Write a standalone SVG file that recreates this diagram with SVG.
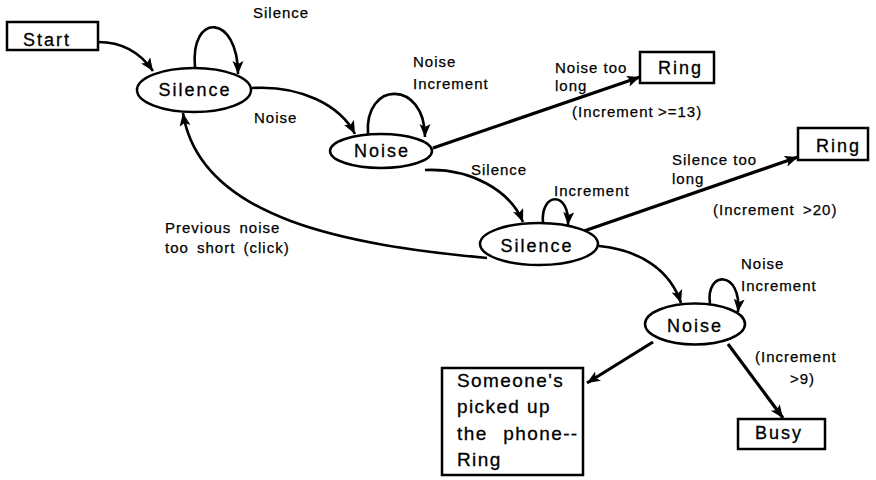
<svg xmlns="http://www.w3.org/2000/svg" width="876" height="480" viewBox="0 0 876 480">
<defs>
<style>
.bg{fill:#fff}
.node ellipse,.node rect{fill:#fff;stroke:#000;stroke-width:2.5}
.ntext{font-family:"Liberation Sans",Arial,sans-serif;font-size:18px;letter-spacing:2px;fill:#000;stroke:#000;stroke-width:0.3}
.ctext{text-anchor:middle}
.btext{font-family:"Liberation Sans",Arial,sans-serif;font-size:19px;letter-spacing:1.4px;fill:#000;stroke:#000;stroke-width:0.3}
.lbl{font-family:"Liberation Sans",Arial,sans-serif;font-size:15px;letter-spacing:1px;fill:#000;stroke:#000;stroke-width:0.25}
.edge{fill:none;stroke:#000;stroke-width:2.6;marker-end:url(#ah)}
.thick{stroke-width:3.2}
</style>
<marker id="ah" markerUnits="userSpaceOnUse" markerWidth="14" markerHeight="12" refX="13" refY="5.5" orient="auto">
<path d="M0,0 L13,5.5 L0,11 L3,5.5 z" fill="#000"/>
</marker>
</defs>
<rect class="bg" x="0" y="0" width="876" height="480"/>

<g id="connectors">
<path class="edge" d="M98,42 C125,42 142,55 153,71"/>
<path class="edge" d="M195,67 C190,12 238,14 238,74"/>
<path class="edge" d="M252,88 C300,85 340,105 355,134"/>
<path class="edge" d="M368,134 C364,80 425,80 425,137"/>
<path class="edge thick" d="M433,148 L640,77"/>
<path class="edge" d="M425,170 C470,168 510,190 523,222"/>
<path class="edge" d="M543,223 C540,192 570,190 568,225"/>
<path class="edge thick" d="M584,231 L798,157"/>
<path class="edge" d="M487,258 C350,245 200,220 183,113"/>
<path class="edge" d="M599,246 C640,250 670,270 681,303"/>
<path class="edge" d="M710,304 C705,270 742,270 738,312"/>
<path class="edge thick" d="M653,342 L587,383"/>
<path class="edge thick" d="M728,344 L783,418"/>
</g>

<g id="labels">
<text class="lbl" x="253" y="18">Silence</text>
<text class="lbl" x="254" y="123">Noise</text>
<text class="lbl" x="413" y="67">Noise</text>
<text class="lbl" x="413" y="89">Increment</text>
<text class="lbl" x="555" y="73">Noise too</text>
<text class="lbl" x="555" y="91">long</text>
<text class="lbl" x="572" y="117">(Increment<tspan x="658">&gt;=13)</tspan></text>
<text class="lbl" x="471" y="175">Silence</text>
<text class="lbl" x="554" y="196">Increment</text>
<text class="lbl" x="672" y="165">Silence too</text>
<text class="lbl" x="672" y="184">long</text>
<text class="lbl" x="713" y="215">(Increment<tspan x="803">&gt;20)</tspan></text>
<text class="lbl" x="165" y="233" word-spacing="3">Previous noise</text>
<text class="lbl" x="165" y="253" word-spacing="3">too short (click)</text>
<text class="lbl" x="741" y="269">Noise</text>
<text class="lbl" x="741" y="291">Increment</text>
<text class="lbl" x="755" y="362">(Increment</text>
<text class="lbl" x="790" y="384">&gt;9)</text>
</g>

<g id="start" class="node">
<rect x="7" y="22" width="91" height="28"/>
<text class="ntext" x="23" y="46">Start</text>
</g>
<g id="silence1" class="node">
<ellipse cx="194" cy="90" rx="57" ry="22"/>
<text class="ntext ctext" x="195" y="96">Silence</text>
</g>
<g id="noise1" class="node">
<ellipse cx="381" cy="151" rx="51" ry="17"/>
<text class="ntext ctext" x="382" y="157">Noise</text>
</g>
<g id="ring1" class="node">
<rect x="640" y="52" width="74" height="31"/>
<text class="ntext" x="658" y="74">Ring</text>
</g>
<g id="silence2" class="node">
<ellipse cx="539" cy="244" rx="59" ry="21"/>
<text class="ntext ctext" x="537" y="252">Silence</text>
</g>
<g id="ring2" class="node">
<rect x="798" y="128" width="70" height="32"/>
<text class="ntext" x="816" y="152">Ring</text>
</g>
<g id="noise2" class="node">
<ellipse cx="695" cy="324" rx="50" ry="20.5"/>
<text class="ntext ctext" x="695" y="332">Noise</text>
</g>
<g id="pickedup" class="node">
<rect x="442" y="368" width="141" height="107"/>
<text class="btext" x="457" y="387">Someone's</text>
<text class="btext" x="457" y="413">picked up</text>
<text class="btext" x="457" y="440" word-spacing="9">the phone--</text>
<text class="btext" x="457" y="466">Ring</text>
</g>
<g id="busy" class="node">
<rect x="738" y="419" width="87" height="30"/>
<text class="ntext" x="755" y="439">Busy</text>
</g>
</svg>
